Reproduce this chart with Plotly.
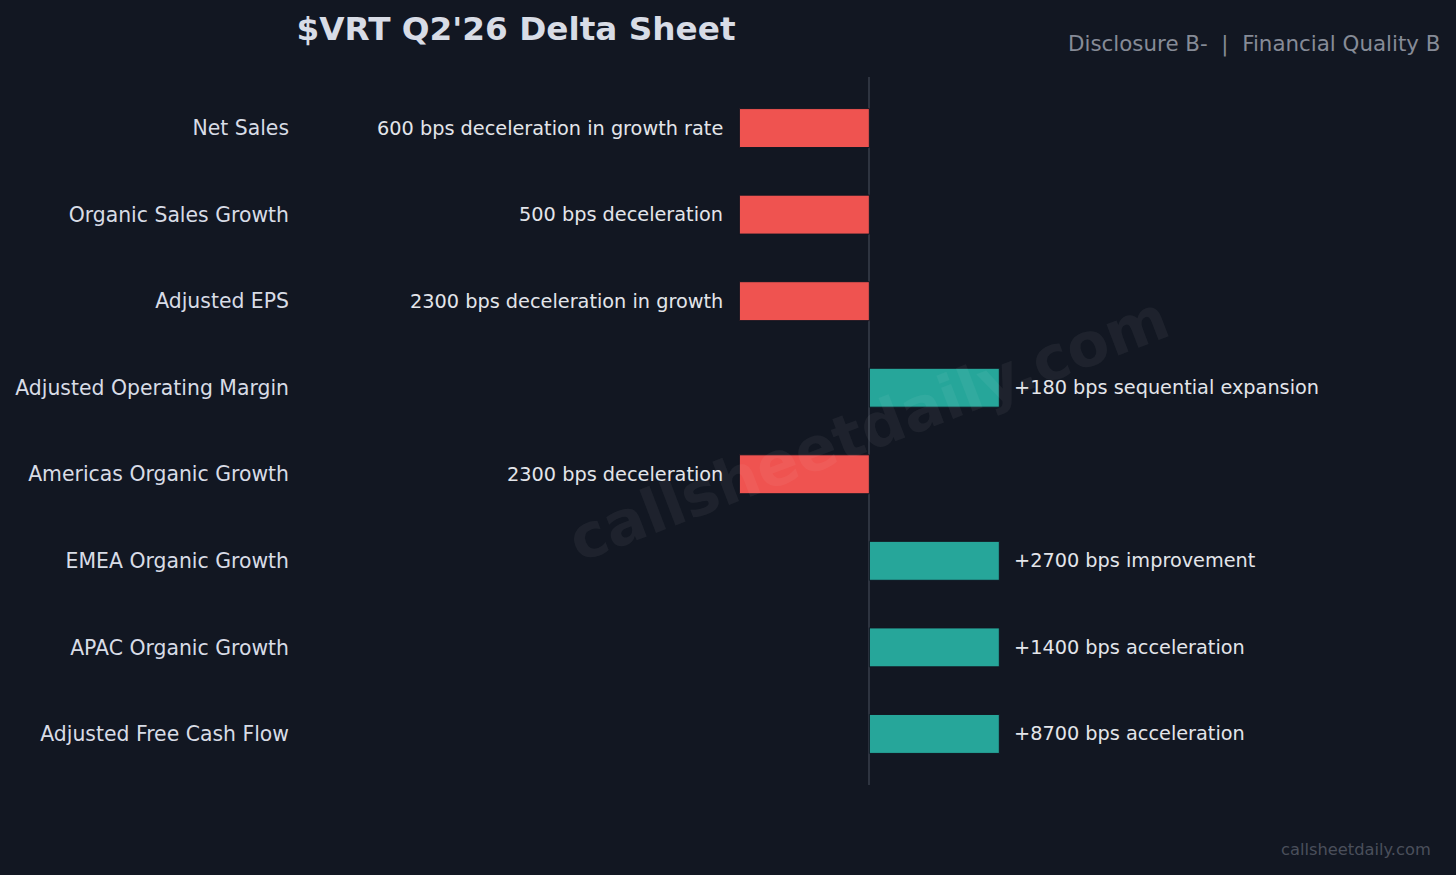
import plotly.graph_objects as go

# chart data, top to bottom
metrics = [
    "Net Sales",
    "Organic Sales Growth",
    "Adjusted EPS",
    "Adjusted Operating Margin",
    "Americas Organic Growth",
    "EMEA Organic Growth",
    "APAC Organic Growth",
    "Adjusted Free Cash Flow",
]
direction = [-1, -1, -1, 1, -1, 1, 1, 1]
notes = [
    "600 bps deceleration in growth rate",
    "500 bps deceleration",
    "2300 bps deceleration in growth",
    "+180 bps sequential expansion",
    "2300 bps deceleration",
    "+2700 bps improvement",
    "+1400 bps acceleration",
    "+8700 bps acceleration",
]

BG = "#121722"
RED = "#EF5350"
TEAL = "#26A69A"
FONT = "DejaVu Sans"

colors = [RED if d < 0 else TEAL for d in direction]

fig = go.Figure()
fig.add_trace(go.Bar(
    x=direction,
    y=metrics,
    orientation="h",
    width=0.45,
    marker=dict(color=colors, line=dict(color=BG, width=1)),
    hoverinfo="skip",
))

# text next to each bar
for m, d, note in zip(metrics, direction, notes):
    fig.add_annotation(
        x=d, y=m, xref="x", yref="y",
        text=note, showarrow=False,
        xanchor="right" if d < 0 else "left",
        xshift=-14 if d < 0 else 13,
        font=dict(family=FONT, size=19.3, color="#E3E5EA"),
    )

# watermark
fig.add_annotation(
    x=(868 - 300) / 1140, y=(785 - 428) / 708, xref="paper", yref="paper",
    text="<b>callsheetdaily.com</b>", showarrow=False, textangle=-21,
    font=dict(family=FONT, size=61, color="rgba(255,255,255,0.05)"),
)

# header / footer text
nb = "\u00a0"
fig.add_annotation(
    x=1.0, y=(785 - 44) / 708, xref="paper", yref="paper",
    text=f"Disclosure B-{nb}{nb}|{nb}{nb}Financial Quality B", showarrow=False,
    xanchor="right", yanchor="middle", xshift=3,
    font=dict(family=FONT, size=21.4, color="#868B97"),
)
fig.add_annotation(
    x=(1430 - 300) / 1140, y=(785 - 850) / 708, xref="paper", yref="paper",
    text="callsheetdaily.com", showarrow=False,
    xanchor="right", yanchor="middle", xshift=3,
    font=dict(family=FONT, size=16.3, color="#4A4F5B"),
)

fig.update_layout(
    width=1456, height=875,
    paper_bgcolor=BG, plot_bgcolor=BG,
    margin=dict(l=300, r=16, t=77, b=90),
    showlegend=False,
    title=dict(
        text="<b>$VRT Q2'26 Delta Sheet</b>",
        x=516 / 1456, xanchor="center", xref="container",
        y=1 - 29 / 875, yanchor="middle", yref="container",
        font=dict(family=FONT, size=32.7, color="#D8DCE6"),
    ),
    font=dict(family=FONT, color="#D8DCE6"),
)
fig.update_xaxes(
    range=[-4.38, 4.39], showgrid=False, showticklabels=False,
    zeroline=True, zerolinecolor="#2E3440", zerolinewidth=2,
)
fig.update_yaxes(
    type="category", categoryorder="array", categoryarray=metrics,
    range=[7.59, -0.59], showgrid=False, ticks="",
    ticklabelstandoff=10,
    tickfont=dict(family=FONT, size=20.4, color="#D8DCE6"),
)

fig.write_html(
    "out.html",
    config={"displayModeBar": False},
    post_script="document.body.style.margin='0';",
)
